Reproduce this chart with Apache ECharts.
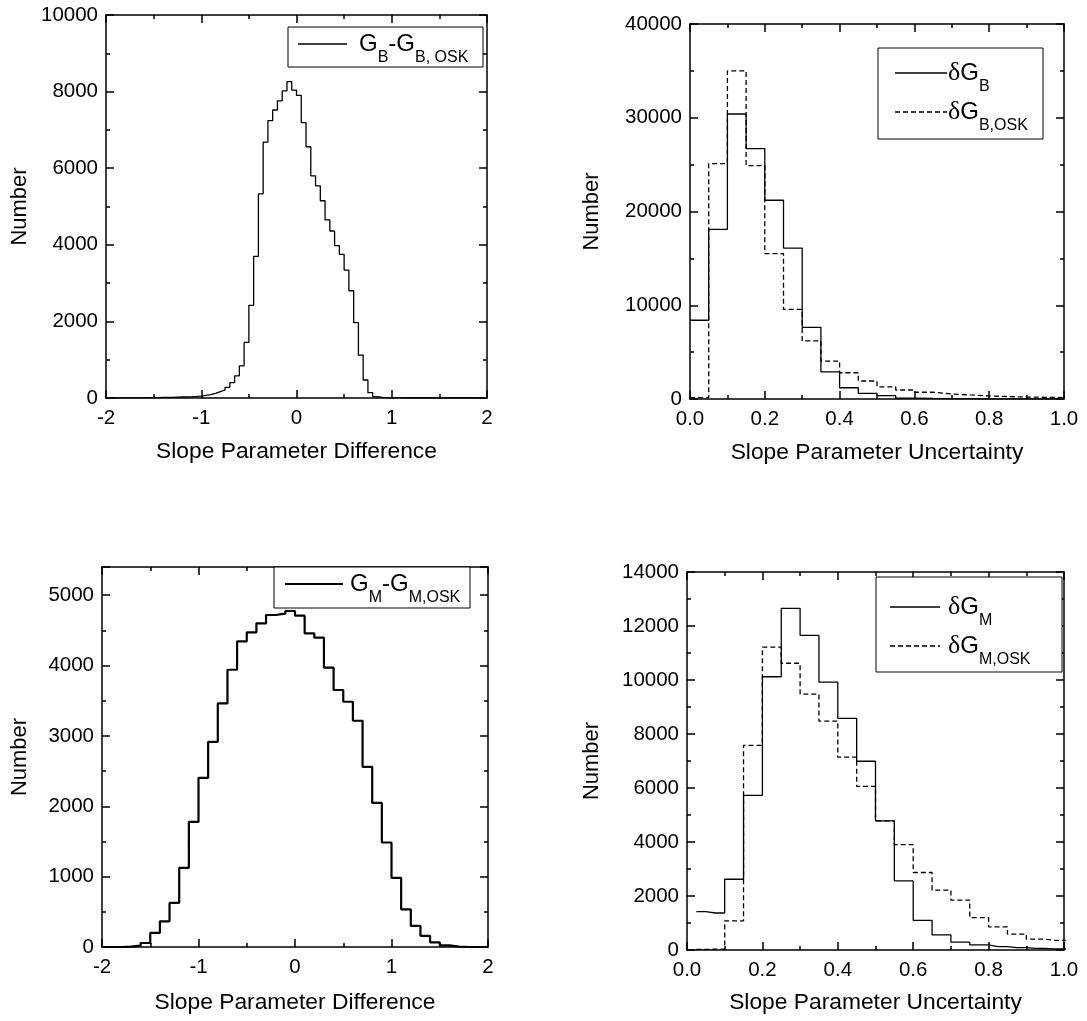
<!DOCTYPE html>
<html><head><meta charset="utf-8">
<script src="https://cdn.jsdelivr.net/npm/echarts@6/dist/echarts.min.js"></script>
<style>html,body{margin:0;padding:0;background:#fff}#c{width:1087px;height:1021px}</style>
</head><body><div id="c"></div>
<script>
// ---------------- DATA ----------------
// Panel 1: G_B - G_B,OSK  (bins of 0.05 starting at -2)
const diffB_binStart = -2;
const diffB_binWidth = 0.05;
const diffB_counts = [0,0,3,3,5,5,5,6,8,10, 12,14,16,18,22,26,30,34,40,50,
  70,90,120,165,210,280,400,580,840,1450, 2420,3700,5330,6680,7240,7520,7760,8020,8260,8040,
  7900,7190,6560,5800,5540,5150,4650,4360,3980,3750, 3340,2800,1970,1120,470,140,35,15,8,5,
  3,2,0,0,0,0,0,0,0,0, 0,0,0,0,0,0,0,0,0,0];

// Panel 2: dG_B and dG_B,OSK (bins of 0.05 starting at 0)
const uncB_binStart = 0;
const uncB_binWidth = 0.05;
const uncB_solid  = [8400,18100,30400,26700,21200,16100,7650,2900,1200,600,350,100,60,40,30,20,15,10,10,5];
const uncB_dashed = [150,25100,35000,24900,15500,9550,6200,4050,2800,1920,1300,960,720,540,430,330,260,210,180,150];

// Panel 3: G_M - G_M,OSK (bins of 0.1 starting at -2)
const diffM_binStart = -2;
const diffM_binWidth = 0.1;
const diffM_counts = [0,0,5,20,57,200,365,626,1124,1778, 2404,2916,3462,3940,4344,4472,4600,4718,4737,4775,
  4709,4458,4396,3969,3652,3485,3215,2560,2048,1485, 982,536,299,157,67,24,6,0,0,0];

// Panel 4: dG_M and dG_M,OSK (bin centres)
const uncM_centers = [0.025,0.075,0.125,0.175,0.225,0.275,0.325,0.375,0.425,0.475,0.525,0.575,0.625,0.675,0.725,0.775,0.825,0.875,0.925,0.975,1.025];
const uncM_solid  = [1420,1370,2620,5730,10120,12650,11650,9920,8580,6990,4780,2560,1100,560,290,190,125,90,60,40,30];
const uncM_dashed = [20,30,1080,7580,11220,10620,9480,8480,7140,6060,4780,3900,2870,2220,1850,1200,860,590,400,360,340];

// Tick labels
const diffTicks = [-2,-1,0,1,2];
const uncTicks = ['0.0','0.2','0.4','0.6','0.8','1.0'];

// ---------------- CHART ----------------
const FONT = '"Liberation Sans", Arial, sans-serif';
const SERIF = '"Liberation Serif", "Times New Roman", serif';

function edgePoints(start, width, counts) {
  const pts = counts.map((c, i) => [start + i * width, c]);
  pts.push([start + counts.length * width, counts[counts.length - 1]]);
  return pts;
}
function centerPoints(xs, ys) { return xs.map((x, i) => [x, ys[i]]); }

const isMult = (v, m) => Math.abs(v / m - Math.round(v / m)) < 1e-6;

const panels = [
  {grid:{left:106,top:15,width:381,height:383},
   x:{min:-2,max:2,major:1,minor:0.5,fmt:v=>isMult(v,1)?String(Math.round(v)):'',name:'Slope Parameter Difference',gap:54},
   y:{min:0,max:10000,major:2000,minor:1000,name:'Number',gap:86}},
  {grid:{left:690,top:24,width:374,height:375},
   x:{min:0,max:1,major:0.2,minor:0.1,fmt:v=>v.toFixed(1),name:'Slope Parameter Uncertainty',gap:54},
   y:{min:0,max:40000,major:10000,minor:5000,name:'Number',gap:98}},
  {grid:{left:102,top:567,width:386,height:380},
   x:{min:-2,max:2,major:1,minor:0.5,fmt:v=>isMult(v,1)?String(Math.round(v)):'',name:'Slope Parameter Difference',gap:56},
   y:{min:0,max:5400,major:1000,minor:500,name:'Number',gap:82}},
  {grid:{left:687,top:572,width:377,height:378},
   x:{min:0,max:1,major:0.2,minor:0.1,fmt:v=>v.toFixed(1),name:'Slope Parameter Uncertainty',gap:53},
   y:{min:0,max:14000,major:2000,minor:1000,name:'Number',gap:95}}
];

const grids = [], xAxes = [], yAxes = [];
const lineCol = '#000';
panels.forEach((p, gi) => {
  grids.push(Object.assign({show:false, containLabel:false, outerBoundsMode:'none'}, p.grid));
  const mk = (dim, cfg, pos, major) => {
    const a = {
      gridIndex: gi, type: 'value', position: pos, min: cfg.min, max: cfg.max,
      interval: major ? cfg.major : cfg.minor,
      axisLine: {show: major, onZero: false, lineStyle: {color: lineCol, width: 1.5}},
      axisTick: {show: true, inside: true, length: major ? 8 : 4, lineStyle: {color: lineCol, width: 1.5}},
      axisLabel: {show: false},
      splitLine: {show: false}, minorTick: {show: false}, minorSplitLine: {show: false}
    };
    if (major && (pos === 'bottom' || pos === 'left')) {
      a.axisLabel = {show: true, color: '#000', fontSize: 20.5, fontFamily: FONT, margin: dim === 'x' ? 10 : 8,
        showMinLabel: true, showMaxLabel: true,
        formatter: dim === 'x' ? cfg.fmt : (v => isMult(v, cfg.major) ? String(Math.round(v)) : '')};
      a.name = cfg.name; a.nameLocation = 'middle'; a.nameGap = cfg.gap; a.nameMoveOverlap = false;
      a.nameTextStyle = {color: '#000', fontSize: dim === 'x' ? 22.8 : 22, fontFamily: FONT, verticalAlign: 'middle', align: 'center'};
      if (dim === 'y') a.nameRotate = 90;
    }
    return a;
  };
  xAxes.push(mk('x', p.x, 'bottom', true), mk('x', p.x, 'bottom', false), mk('x', p.x, 'top', true), mk('x', p.x, 'top', false));
  yAxes.push(mk('y', p.y, 'left', true), mk('y', p.y, 'left', false), mk('y', p.y, 'right', true), mk('y', p.y, 'right', false));
});

function ser(gi, name, data, step, width, dashed) {
  return {type: 'line', name, xAxisIndex: gi * 4, yAxisIndex: gi * 4, data, step,
    symbol: 'none', showSymbol: false, clip: true, animation: false,
    lineStyle: {color: '#000', width, type: dashed ? [5, 3] : 'solid'}, z: 5};
}

const series = [
  ser(0, 'GB-GB,OSK', edgePoints(diffB_binStart, diffB_binWidth, diffB_counts), 'end', 1.3, false),
  ser(1, 'dGB', edgePoints(uncB_binStart, uncB_binWidth, uncB_solid), 'end', 1.3, false),
  ser(1, 'dGB,OSK', edgePoints(uncB_binStart, uncB_binWidth, uncB_dashed), 'end', 1.3, true),
  ser(2, 'GM-GM,OSK', edgePoints(diffM_binStart, diffM_binWidth, diffM_counts), 'end', 2.2, false),
  ser(3, 'dGM', centerPoints(uncM_centers, uncM_solid), 'middle', 1.3, false),
  ser(3, 'dGM,OSK', centerPoints(uncM_centers, uncM_dashed), 'middle', 1.3, true)
];

const rich = {
  m: {fontSize: 24, lineHeight: 24, fontFamily: FONT, fill: '#000', verticalAlign: 'middle'},
  d: {fontSize: 26, lineHeight: 24, fontFamily: SERIF, fill: '#000', verticalAlign: 'middle'},
  s: {fontSize: 16, lineHeight: 16, fontFamily: FONT, fill: '#000', verticalAlign: 'middle', padding: [28, 0, 0, 0]}
};
function legendBox(x, y, w, h) {
  return {type: 'rect', shape: {x, y, width: w, height: h}, style: {fill: '#fff', stroke: '#000', lineWidth: 1}, z: 10};
}
function legendLine(x1, x2, y, width, dashed) {
  return {type: 'line', shape: {x1, y1: y, x2, y2: y}, style: {stroke: '#000', lineWidth: width, lineDash: dashed ? [5, 3] : null}, z: 11};
}
function legendText(x, y, text) {
  return {type: 'text', x, y, style: {text, rich, verticalAlign: 'middle', align: 'left'}, z: 11};
}

const graphic = [
  legendBox(288, 27, 195, 40), legendLine(298, 347, 44, 1.3, false),
  legendText(359, 44, '{m|G}{s|B}{m|-G}{s|B, OSK}'),
  legendBox(878, 48, 165, 91), legendLine(895, 947, 73, 1.3, false), legendLine(895, 947, 112, 1.3, true),
  legendText(948, 73, '{d|δ}{m|G}{s|B}'), legendText(948, 112, '{d|δ}{m|G}{s|B,OSK}'),
  legendBox(274, 567, 196, 41), legendLine(285, 343, 584, 2.2, false),
  legendText(350, 584, '{m|G}{s|M}{m|-G}{s|M,OSK}'),
  legendBox(876, 577, 186, 95), legendLine(890, 940, 607, 1.3, false), legendLine(890, 940, 646, 1.3, true),
  legendText(948, 607, '{d|δ}{m|G}{s|M}'), legendText(948, 646, '{d|δ}{m|G}{s|M,OSK}')
];

const chart = echarts.init(document.getElementById('c'), null, {renderer: 'canvas'});
chart.setOption({
  backgroundColor: '#fff', animation: false,
  grid: grids, xAxis: xAxes, yAxis: yAxes, series, graphic,
  tooltip: {show: false}
});
</script>
</body></html>
